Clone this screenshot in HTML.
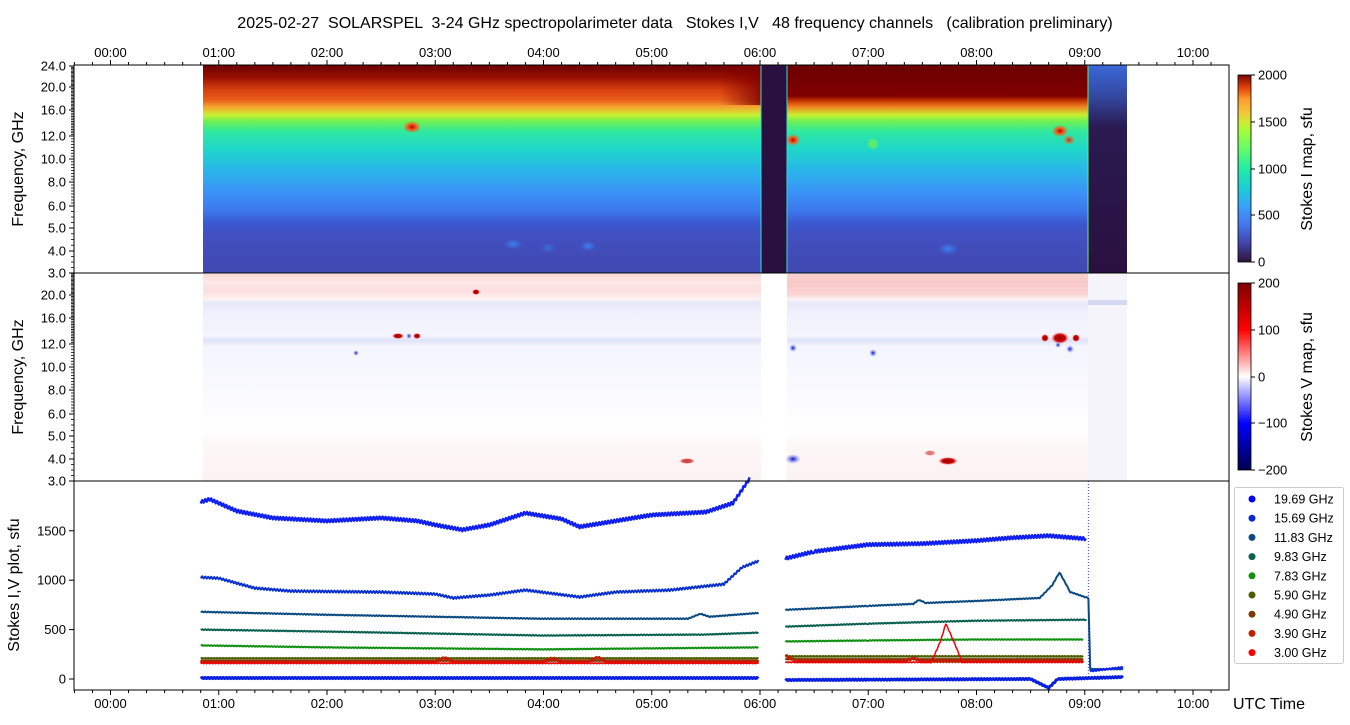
<!DOCTYPE html>
<html><head><meta charset="utf-8"><style>
body{margin:0;background:#fff;}
svg{display:block;font-family:"Liberation Sans",sans-serif;}
</style></head><body>
<svg id="s" width="1350" height="725" xmlns="http://www.w3.org/2000/svg">
<defs>
<linearGradient id="gI" x1="0" y1="0" x2="0" y2="1">
<stop offset="0" stop-color="#6a0000"/>
<stop offset="0.06" stop-color="#9a1000"/>
<stop offset="0.12" stop-color="#d84010"/>
<stop offset="0.17" stop-color="#e86018"/>
<stop offset="0.2" stop-color="#f8a030"/>
<stop offset="0.24" stop-color="#c8f030"/>
<stop offset="0.27" stop-color="#70f050"/>
<stop offset="0.32" stop-color="#30e8a0"/>
<stop offset="0.4" stop-color="#20d8c8"/>
<stop offset="0.5" stop-color="#28b8e8"/>
<stop offset="0.62" stop-color="#3c90f8"/>
<stop offset="0.7" stop-color="#3c78ec"/>
<stop offset="0.76" stop-color="#3c58d0"/>
<stop offset="0.82" stop-color="#4250c0"/>
<stop offset="1" stop-color="#4048b0"/>
</linearGradient>
<linearGradient id="gI2" x1="0" y1="0" x2="0" y2="1">
<stop offset="0" stop-color="#6a0000"/>
<stop offset="0.15" stop-color="#800000"/>
<stop offset="0.17" stop-color="#c03000"/>
<stop offset="0.2" stop-color="#f08020"/>
<stop offset="0.24" stop-color="#c8f030"/>
<stop offset="0.27" stop-color="#70f050"/>
<stop offset="0.32" stop-color="#30e8a0"/>
<stop offset="0.4" stop-color="#20d8c8"/>
<stop offset="0.5" stop-color="#28b8e8"/>
<stop offset="0.62" stop-color="#3c90f8"/>
<stop offset="0.7" stop-color="#3c78ec"/>
<stop offset="0.76" stop-color="#3c58d0"/>
<stop offset="0.82" stop-color="#4250c0"/>
<stop offset="1" stop-color="#4048b0"/>
</linearGradient>
<linearGradient id="gT" x1="0" y1="0" x2="1" y2="0">
<stop offset="0" stop-color="#800000" stop-opacity="0"/>
<stop offset="1" stop-color="#800000" stop-opacity="1"/>
</linearGradient>
<linearGradient id="gD" x1="0" y1="0" x2="0" y2="1">
<stop offset="0" stop-color="#3a68d8"/>
<stop offset="0.15" stop-color="#3448a0"/>
<stop offset="0.3" stop-color="#2a1a50"/>
<stop offset="1" stop-color="#2a1040"/>
</linearGradient>
<linearGradient id="cbI" x1="0" y1="1" x2="0" y2="0">
<stop offset="0" stop-color="#30123b"/>
<stop offset="0.1" stop-color="#4145ab"/>
<stop offset="0.2" stop-color="#4675ed"/>
<stop offset="0.3" stop-color="#39a2fc"/>
<stop offset="0.4" stop-color="#1bcfd4"/>
<stop offset="0.5" stop-color="#24eca6"/>
<stop offset="0.6" stop-color="#61fc6c"/>
<stop offset="0.7" stop-color="#a4fc3b"/>
<stop offset="0.75" stop-color="#d1e834"/>
<stop offset="0.8" stop-color="#f3c63a"/>
<stop offset="0.87" stop-color="#fe9b2d"/>
<stop offset="0.93" stop-color="#e4460a"/>
<stop offset="1" stop-color="#7a0403"/>
</linearGradient>
<linearGradient id="cbV" x1="0" y1="1" x2="0" y2="0">
<stop offset="0" stop-color="#00004c"/>
<stop offset="0.25" stop-color="#0000ff"/>
<stop offset="0.5" stop-color="#ffffff"/>
<stop offset="0.75" stop-color="#ff0000"/>
<stop offset="1" stop-color="#800000"/>
</linearGradient>
<linearGradient id="gV" x1="0" y1="0" x2="0" y2="1">
<stop offset="0" stop-color="#fbd8d8"/>
<stop offset="0.04" stop-color="#fde8e8"/>
<stop offset="0.08" stop-color="#fcdede"/>
<stop offset="0.12" stop-color="#fef2f2"/>
<stop offset="0.14" stop-color="#e6e9fa"/>
<stop offset="0.18" stop-color="#eef0fc"/>
<stop offset="0.3" stop-color="#f4f5fd"/>
<stop offset="0.32" stop-color="#dfe2f8"/>
<stop offset="0.35" stop-color="#f4f5fd"/>
<stop offset="0.6" stop-color="#fafaff"/>
<stop offset="0.75" stop-color="#ffffff"/>
<stop offset="0.85" stop-color="#fdf6f6"/>
<stop offset="1" stop-color="#fcf2f2"/>
</linearGradient>
<linearGradient id="gV2" x1="0" y1="0" x2="0" y2="1">
<stop offset="0" stop-color="#fbd0d0"/>
<stop offset="0.04" stop-color="#f8c8c8"/>
<stop offset="0.1" stop-color="#fad4d4"/>
<stop offset="0.12" stop-color="#fef2f2"/>
<stop offset="0.14" stop-color="#e6e9fa"/>
<stop offset="0.18" stop-color="#eef0fc"/>
<stop offset="0.3" stop-color="#f4f5fd"/>
<stop offset="0.32" stop-color="#dfe2f8"/>
<stop offset="0.35" stop-color="#f4f5fd"/>
<stop offset="0.6" stop-color="#fafaff"/>
<stop offset="0.75" stop-color="#ffffff"/>
<stop offset="0.85" stop-color="#fdf6f6"/>
<stop offset="1" stop-color="#fcf2f2"/>
</linearGradient>
<radialGradient id="spR"><stop offset="0" stop-color="#c00000"/><stop offset="0.5" stop-color="#f06020"/><stop offset="1" stop-color="#f06020" stop-opacity="0"/></radialGradient>
<radialGradient id="spB"><stop offset="0" stop-color="#3a80f0"/><stop offset="1" stop-color="#3a80f0" stop-opacity="0"/></radialGradient>
<radialGradient id="vR"><stop offset="0" stop-color="#900000"/><stop offset="0.6" stop-color="#d00000"/><stop offset="1" stop-color="#ff8080" stop-opacity="0"/></radialGradient>
<radialGradient id="vB"><stop offset="0" stop-color="#0010c0"/><stop offset="1" stop-color="#8080ff" stop-opacity="0"/></radialGradient>
</defs>
<text x="675" y="28" font-size="16" text-anchor="middle" style="white-space:pre" xml:space="preserve">2025-02-27  SOLARSPEL  3-24 GHz spectropolarimeter data   Stokes I,V   48 frequency channels   (calibration preliminary)</text>

<!-- top panel -->
<rect x="203" y="65" width="558" height="208" fill="url(#gI)"/>
<rect x="720" y="65" width="41" height="40" fill="url(#gT)" opacity="0.85"/>
<rect x="787" y="65" width="301" height="208" fill="url(#gI2)"/>
<rect x="761" y="65" width="26" height="208" fill="#2a1040"/>
<rect x="1088" y="65" width="39" height="208" fill="url(#gD)"/>
<line x1="761" y1="65" x2="761" y2="273" stroke="#30e0d0" stroke-width="1"/>
<line x1="787" y1="65" x2="787" y2="273" stroke="#30e0d0" stroke-width="1"/>
<line x1="1088" y1="65" x2="1088" y2="273" stroke="#60f070" stroke-width="1"/>
<ellipse cx="412" cy="127" rx="9" ry="6" fill="url(#spR)"/>
<ellipse cx="793" cy="140" rx="7" ry="6" fill="url(#spR)"/>
<ellipse cx="1060" cy="131" rx="8" ry="6" fill="url(#spR)"/>
<ellipse cx="1069" cy="140" rx="6" ry="5" fill="url(#spR)" opacity="0.7"/>
<ellipse cx="873" cy="144" rx="5" ry="5" fill="#70f050" opacity="0.7"/>
<ellipse cx="948" cy="249" rx="10" ry="6" fill="url(#spB)"/>
<ellipse cx="513" cy="244" rx="9" ry="5" fill="url(#spB)"/>
<ellipse cx="588" cy="246" rx="8" ry="5" fill="url(#spB)"/>
<ellipse cx="548" cy="248" rx="8" ry="5" fill="url(#spB)" opacity="0.6"/>

<!-- middle panel -->
<g>
<rect x="203" y="274" width="558" height="207" fill="url(#gV)"/>
<rect x="787" y="274" width="301" height="207" fill="url(#gV2)"/>
<rect x="1088" y="274" width="39" height="207" fill="#f4f4fa"/>
<rect x="1088" y="300" width="39" height="5" fill="#d4d8f2"/>
<ellipse cx="1060" cy="338" rx="9" ry="6" fill="url(#vR)"/>
<ellipse cx="1045" cy="338" rx="4" ry="4" fill="url(#vR)"/>
<ellipse cx="1076" cy="338" rx="4" ry="4" fill="url(#vR)"/>
<ellipse cx="1070" cy="349" rx="4" ry="4" fill="url(#vB)"/>
<ellipse cx="1058" cy="345" rx="3" ry="3" fill="url(#vB)"/>
<ellipse cx="398" cy="336" rx="6" ry="3" fill="url(#vR)"/>
<ellipse cx="417" cy="336" rx="4" ry="3" fill="url(#vR)"/>
<ellipse cx="409" cy="336" rx="3" ry="3" fill="url(#vB)"/>
<ellipse cx="476" cy="292" rx="4" ry="3" fill="url(#vR)"/>
<ellipse cx="793" cy="348" rx="4" ry="4" fill="url(#vB)"/>
<ellipse cx="873" cy="353" rx="4" ry="4" fill="url(#vB)"/>
<ellipse cx="356" cy="353" rx="3" ry="3" fill="url(#vB)"/>
<ellipse cx="948" cy="461" rx="10" ry="4" fill="url(#vR)"/>
<ellipse cx="687" cy="461" rx="8" ry="3" fill="url(#vR)" opacity="0.7"/>
<ellipse cx="793" cy="459" rx="8" ry="5" fill="url(#vB)"/>
<ellipse cx="930" cy="453" rx="6" ry="3" fill="url(#vR)" opacity="0.5"/>
</g>

<!-- bottom panel lines -->
<g id="lines" fill="none" stroke-linejoin="round"></g>

<!-- frames -->
<rect x="74" y="65" width="1155" height="208" fill="none" stroke="#000"/>
<rect x="74" y="273" width="1155" height="208" fill="none" stroke="#000"/>
<rect x="74" y="481" width="1155" height="209" fill="none" stroke="#000"/>
<g id="ax" font-size="13"></g>

<text transform="translate(23,169) rotate(-90)" font-size="16" text-anchor="middle">Frequency, GHz</text>
<text transform="translate(23,377) rotate(-90)" font-size="16" text-anchor="middle">Frequency, GHz</text>
<text transform="translate(19,585) rotate(-90)" font-size="16" text-anchor="middle">Stokes I,V plot, sfu</text>
<text x="1233" y="709" font-size="16">UTC Time</text>

<!-- colorbars -->
<rect x="1238" y="75" width="13" height="187" fill="url(#cbI)" stroke="#000" stroke-width="0.8"/>
<rect x="1238" y="283" width="13" height="187" fill="url(#cbV)" stroke="#000" stroke-width="0.8"/>
<text transform="translate(1312,169) rotate(-90)" font-size="16" text-anchor="middle">Stokes I map, sfu</text>
<text transform="translate(1312,377) rotate(-90)" font-size="16" text-anchor="middle">Stokes V map, sfu</text>

<!-- legend -->
<rect x="1234.5" y="487.5" width="109" height="176" fill="#fff" stroke="#ccc" rx="2"/>
<g id="leg" font-size="12.5"></g>
</svg>
<script>
const NS="http://www.w3.org/2000/svg";
function el(p,t,a,txt){const e=document.createElementNS(NS,t);for(const k in a)e.setAttribute(k,a[k]);if(txt!==undefined)e.textContent=txt;p.appendChild(e);return e;}
const ax=document.getElementById('ax');
const X=h=>110.5+h*108.25;
for(let m=-20;m<=10*60+20;m+=10){const x=X(m/60);if(x<74||x>1229)continue;const maj=m%60==0;const L=maj?5:3;
 el(ax,'line',{x1:x,x2:x,y1:65-L,y2:65,stroke:'#000'});
 el(ax,'line',{x1:x,x2:x,y1:690,y2:690+L,stroke:'#000'});
 if(maj){const s=String(m/60).padStart(2,'0')+':00';el(ax,'text',{x:x,y:57,'text-anchor':'middle'},s);el(ax,'text',{x:x,y:708,'text-anchor':'middle'},s);}
}
const F=[[3,273],[4,251],[5,228],[6,206],[8,182],[10,159],[12,136],[16,110],[20,87],[24,66]];
function fy(f){for(let i=0;i<F.length-1;i++){if(f>=F[i][0]&&f<=F[i+1][0]){return F[i][1]+(F[i+1][1]-F[i][1])*(f-F[i][0])/(F[i+1][0]-F[i][0]);}}return 0;}
for(const off of [0,208]){
 for(let f=3;f<=24.001;f+=0.25){const y=fy(f)+off;el(ax,'line',{x1:71,x2:74,y1:y,y2:y,stroke:'#000','stroke-width':0.8});}
 for(const [f,y] of F){ if(off==208&&f==24)continue; el(ax,'line',{x1:69,x2:74,y1:y+off,y2:y+off,stroke:'#000'});el(ax,'text',{x:66,y:y+off+4.5,'text-anchor':'end'},f.toFixed(1));}
}
const Y=v=>679-v*0.0988;
for(const v of [0,500,1000,1500]){el(ax,'line',{x1:69,x2:74,y1:Y(v),y2:Y(v),stroke:'#000'});el(ax,'text',{x:66,y:Y(v)+4.5,'text-anchor':'end'},String(v));}
const cb=[[2000,75],[1500,122],[1000,169],[500,215],[0,262]];
for(const [v,y] of cb){el(ax,'line',{x1:1251,x2:1255,y1:y,y2:y,stroke:'#000'});el(ax,'text',{x:1258,y:y+4.5},String(v));}
const cv=[[200,283],[100,330],[0,377],[-100,423],[-200,470]];
for(const [v,y] of cv){el(ax,'line',{x1:1251,x2:1255,y1:y,y2:y,stroke:'#000'});el(ax,'text',{x:1258,y:y+4.5},(v<0?'\u2212'+(-v):String(v)));}
const g=document.getElementById('lines');
function series(pts,col,w,jit){let d='';let first=true;
 for(let i=0;i<pts.length-1;i++){const [h0,v0]=pts[i],[h1,v1]=pts[i+1];
  if(v0===null||v1===null){first=true;continue;}
  const n=Math.max(2,Math.round((X(h1)-X(h0))/1.5));
  for(let k=0;k<n;k++){const t=k/n;const x=X(h0+(h1-h0)*t);const v=v0+(v1-v0)*t+(k%2?jit:-jit);d+=(first?'M':'L')+x.toFixed(1)+' '+Y(v).toFixed(1)+' ';first=false;}
 }
 el(g,'path',{d:d,stroke:col,'stroke-width':w});}
const h=(hh,mm)=>hh+mm/60;
series([[h(0,50),1790],[h(0,55),1820],[h(1,10),1700],[h(1,30),1630],[h(2,0),1600],[h(2,30),1630],[h(2,50),1600],[h(3,0),1560],[h(3,15),1510],[h(3,30),1560],[h(3,50),1680],[h(4,10),1620],[h(4,20),1540],[h(4,40),1600],[h(5,0),1660],[h(5,30),1690],[h(5,45),1780],[h(5,55),2050],[h(6,0),null],[h(6,14),null],[h(6,14),1220],[h(6,30),1290],[h(7,0),1360],[h(7,30),1370],[h(8,0),1400],[h(8,20),1430],[h(8,40),1450],[h(9,0),1420],[h(9,1),1400],[h(9,1),null]],'#1020f0',2.5,14);
el(g,'line',{x1:X(h(9,2)),x2:X(h(9,2)),y1:481,y2:679,stroke:'#3040f0','stroke-width':1,'stroke-dasharray':'1 2'});
series([[h(0,50),1030],[h(1,0),1020],[h(1,20),920],[h(1,40),890],[h(2,30),880],[h(3,0),860],[h(3,10),820],[h(3,30),850],[h(3,50),900],[h(4,20),830],[h(4,40),880],[h(5,10),900],[h(5,40),960],[h(5,50),1130],[h(6,0),1200]],'#0a30d0',2,10);
series([[h(0,50),680],[h(2,0),650],[h(4,0),610],[h(5,20),610],[h(5,27),660],[h(5,32),630],[h(6,0),670],[h(6,0),null],[h(6,14),null],[h(6,14),700],[h(7,0),740],[h(7,25),760],[h(7,28),800],[h(7,32),770],[h(8,0),790],[h(8,35),820],[h(8,42),950],[h(8,46),1080],[h(8,52),880],[h(9,0),830],[h(9,2),820],[h(9,3),100],[h(9,22),100]],'#0a4a80',2,4);
series([[h(0,50),500],[h(2,0),480],[h(4,0),440],[h(5,30),450],[h(6,0),470],[h(6,0),null],[h(6,14),null],[h(6,14),530],[h(7,0),560],[h(8,0),590],[h(9,0),600],[h(9,2),590],[h(9,3),null]],'#0a6050',2,4);
series([[h(0,50),340],[h(2,0),320],[h(4,0),300],[h(6,0),320],[h(6,0),null],[h(6,14),null],[h(6,14),380],[h(7,0),390],[h(8,0),400],[h(9,0),400],[h(9,3),null]],'#109010',2,4);
series([[h(0,50),210],[h(6,0),210],[h(6,0),null],[h(6,14),null],[h(6,14),230],[h(9,0),230],[h(9,3),null]],'#4a6000',2,4);
series([[h(0,50),185],[h(6,0),185],[h(6,0),null],[h(6,14),null],[h(6,14),200],[h(9,0),200],[h(9,3),null]],'#7a3a00',2,4);
series([[h(0,50),170],[h(3,0),175],[h(3,5),215],[h(3,10),175],[h(4,0),175],[h(4,5),210],[h(4,10),175],[h(4,25),175],[h(4,30),220],[h(4,35),175],[h(6,0),175],[h(6,0),null],[h(6,14),null],[h(6,14),240],[h(6,20),180],[h(7,20),180],[h(7,25),210],[h(7,30),180],[h(9,0),180],[h(9,3),null]],'#c02000',2.5,8);
series([[h(0,50),160],[h(6,0),160],[h(6,0),null],[h(6,14),null],[h(6,14),170],[h(7,35),170],[h(7,40),380],[h(7,43),560],[h(7,47),400],[h(7,52),170],[h(9,0),170],[h(9,3),null]],'#f00000',1.5,5);
series([[h(0,50),10],[h(6,0),10],[h(6,0),null],[h(6,14),null],[h(6,14),-10],[h(8,30),0],[h(8,40),-90],[h(8,45),0],[h(9,22),20]],'#0a20e0',3,6);
series([[h(9,3),80],[h(9,22),120]],'#1020f0',2,6);
const lg=document.getElementById('leg');
const L=[['19.69 GHz','#0000ff'],['15.69 GHz','#0a2ad0'],['11.83 GHz','#0a4a80'],['9.83 GHz','#0a6050'],['7.83 GHz','#109010'],['5.90 GHz','#4a6000'],['4.90 GHz','#7a3a00'],['3.90 GHz','#c02000'],['3.00 GHz','#ff0000']];
L.forEach(([t,c],i)=>{const y=499+i*19.2;el(lg,'circle',{cx:1252,cy:y,r:3.5,fill:c});el(lg,'text',{x:1274,y:y+4.5},t);});
</script>
</body></html>
